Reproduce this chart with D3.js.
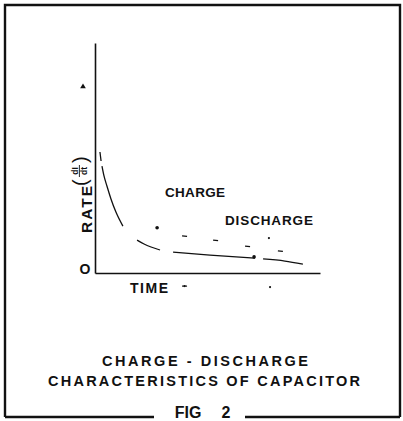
<!DOCTYPE html>
<html><head><meta charset="utf-8">
<script src="https://cdn.jsdelivr.net/npm/d3@7/dist/d3.min.js"></script>
<style>html,body{margin:0;padding:0;background:#fff;}svg{display:block;}</style>
</head><body>
<script>
// ---- data (time units 0..10, rate units 0..10) ----
const timeDomain = [0, 10];
const rateDomain = [0, 10];
// charge curve, broken trace (null = gap)
const chargeTime = [0.22, 0.27, null, 0.31, 0.40, 0.53, 0.71, 0.93, 1.24, null, 1.87, 2.18, 2.49, 2.89, null, 3.47, 5.11, 7.11, null, 7.47, 8.44, 9.24];
const chargeRate = [5.26, 4.87, null, 4.65, 4.22, 3.78, 3.22, 2.65, 2.04, null, 1.43, 1.26, 1.13, 1.00, null, 0.91, 0.78, 0.65, null, 0.61, 0.52, 0.39];
// discharge trace, faint dashes
const dischargeTime = [3.98, 5.36, 6.78, 8.24];
const dischargeRate = [1.61, 1.43, 1.17, 0.96];
// blots on the drawing
const blotTime = [2.76, 7.07, 7.73, 3.98, 7.78];
const blotRate = [1.97, 0.70, 1.52, -0.57, -0.61];
const xLabel = "TIME";
const yLabel = "RATE";
const originLabel = "O";
const seriesLabels = ["CHARGE", "DISCHARGE"];
const titleLines = ["CHARGE - DISCHARGE", "CHARACTERISTICS OF CAPACITOR"];
const figLabel = ["FIG", "2"];

const W = 403, H = 421;
const svg = d3.select("body").append("svg").attr("width", W).attr("height", H);
const ink = "#111";
const font = "'Liberation Sans', Arial, sans-serif";

const x = d3.scaleLinear().domain(timeDomain).range([95, 320]);
const y = d3.scaleLinear().domain(rateDomain).range([273, 43]);

// frame
const fr = {l: 5, t: 5, r: 400, b: 417};
const frame = svg.append("g").attr("stroke", ink).attr("stroke-width", 2.4).attr("fill", "none");
frame.append("path").attr("d", `M${fr.l},${fr.b} L${fr.l},${fr.t} L${fr.r},${fr.t} L${fr.r},${fr.b}`);
frame.append("line").attr("x1", fr.l).attr("x2", 154).attr("y1", fr.b).attr("y2", fr.b);
frame.append("line").attr("x1", 245).attr("x2", fr.r).attr("y1", fr.b).attr("y2", fr.b);

// axes (no ticks)
const xAxis = d3.axisBottom(x).tickValues([]).tickSizeOuter(0);
const yAxis = d3.axisLeft(y).tickValues([]).tickSizeOuter(0);
const gx = svg.append("g").attr("transform", `translate(0,${y(0)})`).call(xAxis);
const gy = svg.append("g").attr("transform", `translate(${x(0)},0)`).call(yAxis);
[gx, gy].forEach(g => g.select(".domain").attr("stroke", ink).attr("stroke-width", 1.6));

// small arrow mark on the y axis
svg.append("path").attr("d", d3.symbol(d3.symbolTriangle, 14)())
  .attr("transform", `translate(${x(0) - 12},${y(8.1)})`).attr("fill", ink);

// origin label
svg.append("text").attr("x", x(0) - 10).attr("y", y(0) + 1).attr("text-anchor", "middle")
  .attr("font-family", font).attr("font-weight", "bold").attr("font-size", 14).attr("fill", ink).text(originLabel);

// charge curve
const pts = chargeTime.map((t, i) => [t, chargeRate[i]]);
svg.append("path").datum(pts)
  .attr("d", d3.line().defined(d => d[0] !== null).x(d => x(d[0])).y(d => y(d[1])).curve(d3.curveMonotoneX))
  .attr("fill", "none").attr("stroke", ink).attr("stroke-width", 1.3);

// discharge dashes
svg.selectAll(".dis").data(dischargeTime).join("line")
  .attr("x1", d => x(d) - 2.5).attr("x2", d => x(d) + 2.5)
  .attr("y1", (d, i) => y(dischargeRate[i])).attr("y2", (d, i) => y(dischargeRate[i]) + 0.5)
  .attr("stroke", ink).attr("stroke-width", 1.2);

// blots
svg.selectAll(".blot").data(blotTime).join("circle")
  .attr("cx", d => x(d)).attr("cy", (d, i) => y(blotRate[i]))
  .attr("r", (d, i) => i < 2 ? 1.8 : 1.1).attr("fill", ink);
svg.append("line").attr("x1", x(blotTime[3]) - 2.5).attr("x2", x(blotTime[3]) + 2.5)
  .attr("y1", y(blotRate[3])).attr("y2", y(blotRate[3])).attr("stroke", ink).attr("stroke-width", 1.2);

function label(txt, cx, base, size, len) {
  const t = svg.append("text").attr("x", cx).attr("y", base).attr("text-anchor", "middle")
    .attr("font-family", font).attr("font-weight", "bold").attr("font-size", size)
    .attr("fill", ink).text(txt);
  if (len) t.attr("textLength", len).attr("lengthAdjust", "spacing");
  return t;
}
// series labels
label(seriesLabels[0], 195, 197, 13.5, 60);
label(seriesLabels[1], 269, 225, 13.5, 88);
// x label
label(xLabel, 149, 293, 14, 38);
// titles
label(titleLines[0], 205, 366, 14.5, 206);
label(titleLines[1], 204, 386, 14.5, 312);
// fig label (cut by page edge in the original)
label(figLabel[0], 188, 418, 16, null);
label(figLabel[1], 226, 418, 16, null);

// y label rotated with (dI/dt)
const yl = svg.append("g").attr("transform", "translate(92,233) rotate(-90)");
yl.append("text").attr("x", 0).attr("y", 0).attr("font-family", font).attr("font-weight", "bold")
  .attr("font-size", 15.5).attr("fill", ink).attr("textLength", 47).attr("lengthAdjust", "spacing").text(yLabel);
yl.append("text").attr("x", 47).attr("y", -5).attr("font-family", font).attr("font-size", 20).attr("fill", ink).text("(");
yl.append("text").attr("x", 70).attr("y", -5).attr("font-family", font).attr("font-size", 20).attr("fill", ink).text(")");
yl.append("text").attr("x", 62).attr("y", -14.5).attr("text-anchor", "middle").attr("font-family", font)
  .attr("font-weight", "bold").attr("font-size", 8.5).attr("fill", ink).text("dI");
yl.append("text").attr("x", 62).attr("y", -5.5).attr("text-anchor", "middle").attr("font-family", font)
  .attr("font-weight", "bold").attr("font-size", 8.5).attr("fill", ink).text("dt");
yl.append("line").attr("x1", 56).attr("x2", 68).attr("y1", -12.6).attr("y2", -12.6).attr("stroke", ink).attr("stroke-width", 0.9);
</script>
</body></html>
